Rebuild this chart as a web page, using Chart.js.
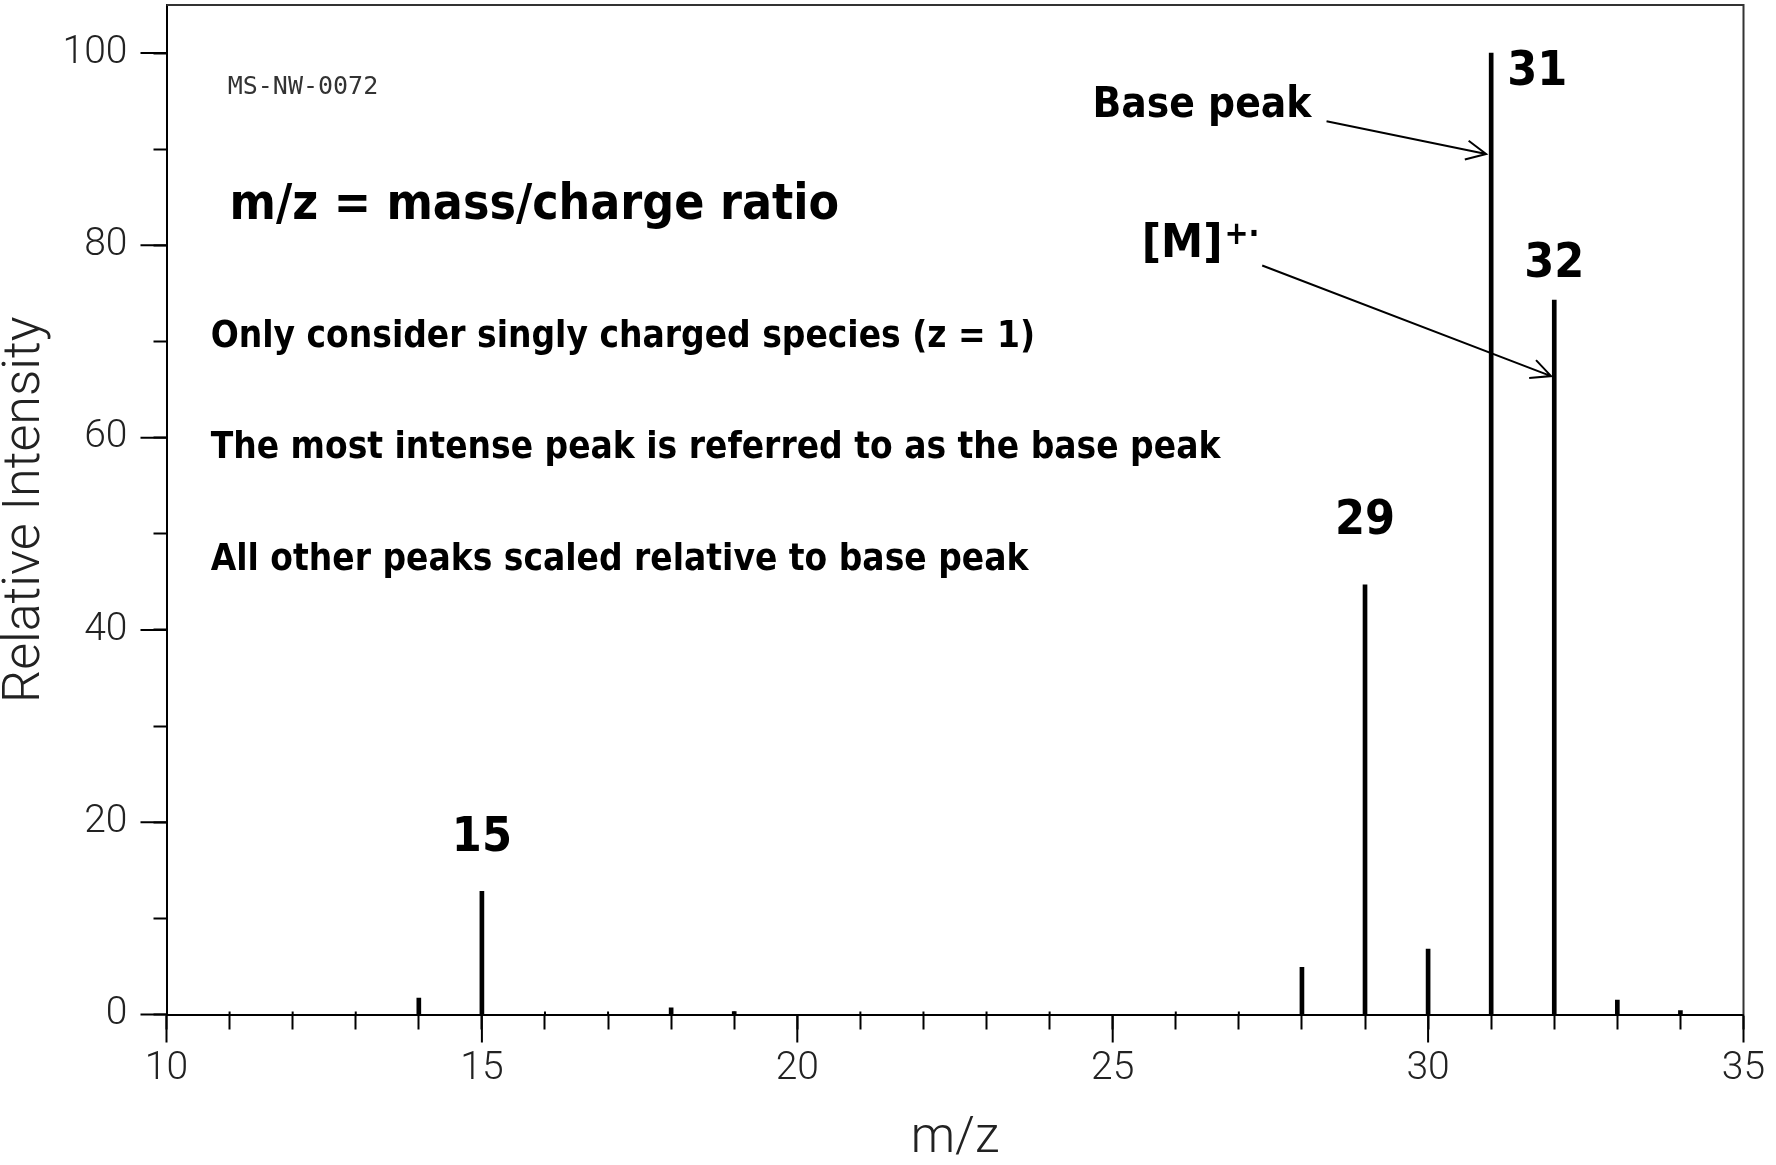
<!DOCTYPE html>
<html>
<head>
<meta charset="utf-8">
<title>Mass spectrum</title>
<script src="https://cdn.jsdelivr.net/npm/chart.js@4.4.1/dist/chart.umd.min.js"></script>
<style>
  html, body { margin: 0; padding: 0; background: #fff; }
  canvas { display: block; }
</style>
</head>
<body>
<canvas id="spectrum" width="1776" height="1165"></canvas>
<script>
// peaks: m/z and relative intensity
const mzValues = [14, 15, 18, 19, 28, 29, 30, 31, 32, 33, 34];
const intensities = [1.7, 12.8, 0.7, 0.3, 4.9, 44.7, 6.8, 100, 74.3, 1.5, 0.4];

const xTickLabels = [10, 15, 20, 25, 30, 35];
const yTickLabels = [0, 20, 40, 60, 80, 100];

// numbers written above the main peaks (in m/z, intensity units)
const peakLabels = ['15', '29', '31', '32'];
const peakLabelX = [15, 29, 31.73, 32];
const peakLabelY = [17, 50, 96.7, 76.7];

// explanatory notes
const noteTexts = [
  'm/z = mass/charge ratio',
  'Only consider singly charged species (z = 1)',
  'The most intense peak is referred to as the base peak',
  'All other peaks scaled relative to base peak',
  'Base peak'
];
const noteX = [11, 10.7, 10.7, 10.7, 24.68];
const noteY = [82.7, 69.4, 57.9, 46.2, 93.3];

const arrowFrom = [[28.39, 92.9], [27.37, 77.9]];
const arrowTo = [[30.92, 89.5], [31.95, 66.4]];

const BOLD = '"DejaVu Sans Condensed", "DejaVu Sans", sans-serif';
const THIN = 'Roboto, "Liberation Sans", sans-serif';

const annotations = {
  id: 'annotations',
  afterDraw(chart) {
    const { ctx, chartArea: a, scales: { x, y } } = chart;
    ctx.save();

    // frame top + right
    ctx.strokeStyle = '#333';
    ctx.lineWidth = 2;
    ctx.beginPath();
    ctx.moveTo(a.left, a.top);
    ctx.lineTo(a.right, a.top);
    ctx.lineTo(a.right, a.bottom);
    ctx.stroke();

    // long ticks at labelled values, small overshoot of the minor x ticks
    ctx.strokeStyle = '#000';
    ctx.beginPath();
    xTickLabels.forEach(v => {
      const px = x.getPixelForValue(v);
      ctx.moveTo(px, a.bottom);
      ctx.lineTo(px, a.bottom + 28);
    });
    yTickLabels.forEach(v => {
      const py = y.getPixelForValue(v);
      ctx.moveTo(a.left - 26, py);
      ctx.lineTo(a.left, py);
    });
    x.ticks.forEach(t => {
      if (xTickLabels.includes(t.value)) return;
      const px = x.getPixelForValue(t.value);
      ctx.moveTo(px, a.bottom);
      ctx.lineTo(px, a.bottom - 3);
    });
    ctx.stroke();

    // spectrum id
    ctx.fillStyle = '#333';
    ctx.font = '25px "DejaVu Sans Mono", monospace';
    ctx.textBaseline = 'middle';
    ctx.fillText('MS-NW-0072', x.getPixelForValue(10.97), y.getPixelForValue(96.4));

    // notes
    ctx.fillStyle = '#000';
    ctx.textBaseline = 'alphabetic';
    const noteSizes = [49.5, 36.7, 36.7, 36.7, 42];
    noteTexts.forEach((t, i) => {
      ctx.font = 'bold ' + noteSizes[i] + 'px ' + BOLD;
      ctx.fillText(t, x.getPixelForValue(noteX[i]), y.getPixelForValue(noteY[i]));
    });

    // [M]+.
    const mx = x.getPixelForValue(25.46), my = y.getPixelForValue(78.8);
    ctx.font = 'bold 47px ' + BOLD;
    ctx.fillText('[M]', mx, my);
    const w = ctx.measureText('[M]').width;
    ctx.font = 'bold 32px ' + BOLD;
    ctx.fillText('+\u00b7', mx + w + 2, my - 13);

    // peak numbers
    ctx.font = 'bold 48px ' + BOLD;
    ctx.textAlign = 'center';
    peakLabels.forEach((t, i) => {
      ctx.fillText(t, x.getPixelForValue(peakLabelX[i]), y.getPixelForValue(peakLabelY[i]));
    });

    // arrows
    ctx.lineWidth = 2;
    arrowFrom.forEach((f, i) => {
      const x0 = x.getPixelForValue(f[0]), y0 = y.getPixelForValue(f[1]);
      const x1 = x.getPixelForValue(arrowTo[i][0]), y1 = y.getPixelForValue(arrowTo[i][1]);
      const ang = Math.atan2(y1 - y0, x1 - x0);
      ctx.beginPath();
      ctx.moveTo(x0, y0);
      ctx.lineTo(x1, y1);
      ctx.moveTo(x1 - 22 * Math.cos(ang - 0.45), y1 - 22 * Math.sin(ang - 0.45));
      ctx.lineTo(x1, y1);
      ctx.lineTo(x1 - 22 * Math.cos(ang + 0.45), y1 - 22 * Math.sin(ang + 0.45));
      ctx.stroke();
    });
    ctx.restore();
  }
};

new Chart(document.getElementById('spectrum'), {
  type: 'bar',
  data: {
    datasets: [{
      data: mzValues.map((m, i) => ({ x: m, y: intensities[i] })),
      backgroundColor: '#000',
      borderWidth: 0,
      barThickness: ctx => (ctx.raw && ctx.raw.x < 19 ? 2 : 4),
      grouped: false
    }]
  },
  options: {
    responsive: false,
    animation: false,
    events: [],
    layout: { padding: { top: 5, right: 32.5, left: 0, bottom: 0 } },
    plugins: { legend: { display: false }, tooltip: { enabled: false } },
    scales: {
      x: {
        type: 'linear',
        min: 10,
        max: 35,
        offset: false,
        afterFit: s => { s.height = 150.5; s.paddingLeft = 0; s.paddingRight = 0; },
        grid: { offset: false, drawOnChartArea: false, tickLength: 15, tickWidth: 2, tickColor: '#000' },
        border: { color: '#000', width: 2 },
        ticks: {
          stepSize: 1,
          autoSkip: false,
          maxRotation: 0,
          padding: 16,
          color: '#222',
          font: { family: THIN, size: 39, weight: '300' },
          callback: v => (xTickLabels.includes(v) ? String(v) : '')
        },
        title: {
          display: true,
          text: 'm/z',
          color: '#222',
          padding: { top: 0, bottom: 1 },
          font: { family: THIN, size: 50, weight: '300', lineHeight: 1 }
        }
      },
      y: {
        min: 0,
        max: 105,
        afterFit: s => { s.width = 166.5; s.paddingTop = 0; s.paddingBottom = 0; },
        grid: { drawOnChartArea: false, tickLength: 13, tickWidth: 2, tickColor: '#000' },
        border: { color: '#000', width: 2 },
        ticks: {
          stepSize: 10,
          includeBounds: false,
          autoSkip: false,
          padding: 26,
          color: '#222',
          font: { family: THIN, size: 39, weight: '300' },
          callback: v => (yTickLabels.includes(v) ? String(v) : '')
        },
        title: {
          display: true,
          text: 'Relative Intensity',
          color: '#222',
          padding: { top: 0, bottom: 0 },
          font: { family: THIN, size: 52, weight: '300', lineHeight: 1 }
        }
      }
    }
  },
  plugins: [annotations]
});
</script>
</body>
</html>
